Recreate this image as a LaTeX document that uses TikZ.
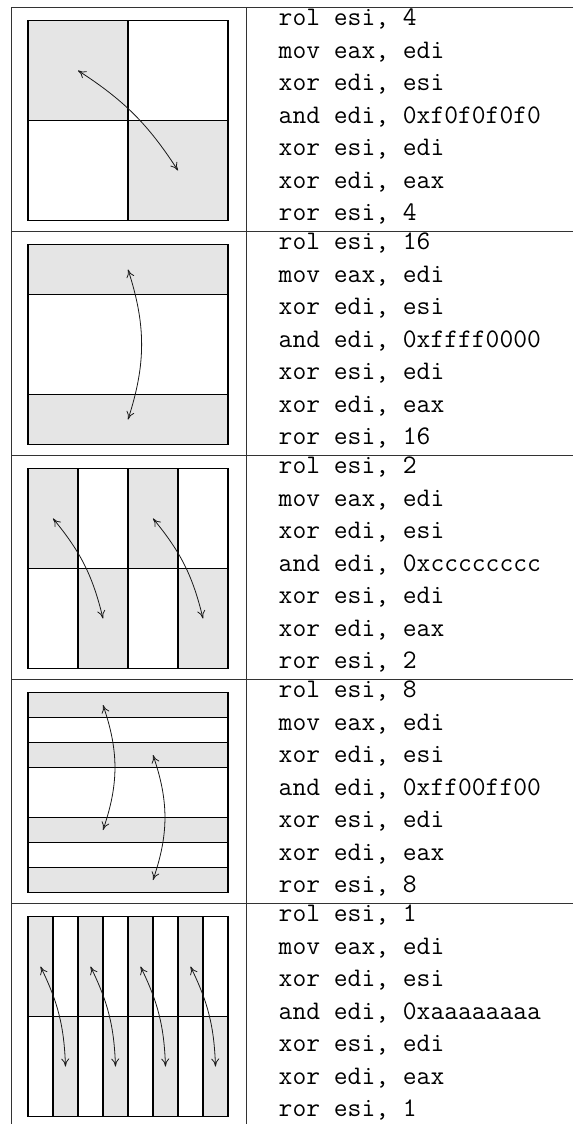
\documentclass[tikz,border=0pt]{standalone}
\usepackage{fontspec}
\usetikzlibrary{arrows.meta}
\definecolor{cellgray}{gray}{0.9}
\tikzset{
  rule/.style={line width=0.9pt, draw=black!80},
  cell/.style={draw=black, line width=1.3pt},
  shaded/.style={cell, fill=cellgray},
  swap/.style={{To[length=8pt,width=8pt]}-{To[length=8pt,width=8pt]}, line width=0.8pt, draw=black!90},
  asm/.style={anchor=base west, inner sep=0pt, font=\fontsize{26.8}{32}\selectfont\ttfamily}
}
\begin{document}
\begin{tikzpicture}[x=1pt,y=1pt]
\useasboundingbox (0,0) rectangle (573,-1124);

% table rules
\coordinate (tr) at (573,-7.5);
\coordinate (tl) at (11,-7.5);
\coordinate (bl) at (11,-1124);
\coordinate (tm) at (246.5,-7.5);
\coordinate (bm) at (246.5,-1124);
\draw[rule] (tr) -- (tl) -- (bl);
\draw[rule] (tm) -- (bm);
\foreach \y in {231.5,455.5,679.5,903.5}
  \draw[rule] (11,-\y) -- (573,-\y);

% row 1: nibble swap (2x2 blocks)
\draw[shaded] (28,-20.5) rectangle (128,-120.5);
\draw[cell]   (128,-20.5) rectangle (228,-120.5);
\draw[cell]   (28,-120.5) rectangle (128,-220.5);
\draw[shaded] (128,-120.5) rectangle (228,-220.5);
\coordinate (a1s) at (78,-70.5);
\coordinate (a1e) at (178,-170.5);
\draw[swap] (a1s) to[bend left=12] (a1e);

% row 2: half-word swap (horizontal bands)
\draw[shaded] (28,-244.5) rectangle (228,-294.5);
\draw[cell]   (28,-294.5) rectangle (228,-394.5);
\draw[shaded] (28,-394.5) rectangle (228,-444.5);
\coordinate (a2s) at (128,-269.5);
\coordinate (a2e) at (128,-419.5);
\draw[swap] (a2s) to[bend left=18] (a2e);

% row 3: 4 columns, checkered
\foreach \i in {0,...,3} {
  \pgfmathsetmacro\xa{28+50*\i}
  \pgfmathsetmacro\xb{78+50*\i}
  \ifodd\i
    \draw[cell]   (\xa,-468.5) rectangle (\xb,-568.5);
    \draw[shaded] (\xa,-568.5) rectangle (\xb,-668.5);
  \else
    \draw[shaded] (\xa,-468.5) rectangle (\xb,-568.5);
    \draw[cell]   (\xa,-568.5) rectangle (\xb,-668.5);
  \fi
}
\foreach \k in {0,1} {
  \coordinate (a3s\k) at ({53+100*\k},-518.5);
  \coordinate (a3e\k) at ({103+100*\k},-618.5);
  \draw[swap] (a3s\k) to[bend left=13] (a3e\k);
}

% row 4: byte swap (horizontal bands)
\draw[shaded] (28,-692.5) rectangle (228,-717.5);
\draw[cell]   (28,-717.5) rectangle (228,-742.5);
\draw[shaded] (28,-742.5) rectangle (228,-767.5);
\draw[cell]   (28,-767.5) rectangle (228,-817.5);
\draw[shaded] (28,-817.5) rectangle (228,-842.5);
\draw[cell]   (28,-842.5) rectangle (228,-867.5);
\draw[shaded] (28,-867.5) rectangle (228,-892.5);
\coordinate (a4s0) at (103,-705);
\coordinate (a4e0) at (103,-830);
\coordinate (a4s1) at (153,-755);
\coordinate (a4e1) at (153,-880);
\draw[swap] (a4s0) to[bend left=19] (a4e0);
\draw[swap] (a4s1) to[bend left=19] (a4e1);

% row 5: 8 columns, checkered
\foreach \i in {0,...,7} {
  \pgfmathsetmacro\xa{28+25*\i}
  \pgfmathsetmacro\xb{53+25*\i}
  \ifodd\i
    \draw[cell]   (\xa,-916.5) rectangle (\xb,-1016.5);
    \draw[shaded] (\xa,-1016.5) rectangle (\xb,-1116.5);
  \else
    \draw[shaded] (\xa,-916.5) rectangle (\xb,-1016.5);
    \draw[cell]   (\xa,-1016.5) rectangle (\xb,-1116.5);
  \fi
}
\foreach \k in {0,...,3} {
  \coordinate (a5s\k) at ({40.5+50*\k},-966.5);
  \coordinate (a5e\k) at ({65.5+50*\k},-1066.5);
  \draw[swap] (a5s\k) to[bend left=12] (a5e\k);
}

% assembly listings
\foreach [count=\r] \amt/\mask in {4/0xf0f0f0f0,16/0xffff0000,2/0xcccccccc,8/0xff00ff00,1/0xaaaaaaaa} {
  \pgfmathsetmacro\T{7.5+224*(\r-1)}
  \foreach [count=\j from 0] \ln in {{rol esi, \amt},{mov eax, edi},{xor edi, esi},{and edi, \mask},{xor esi, edi},{xor edi, eax},{ror esi, \amt}} {
    \node[asm] (r\r l\j) at (278.5,{-(\T+18+32.58*\j)}) {\ln};
  }
}
\end{tikzpicture}
\end{document}
